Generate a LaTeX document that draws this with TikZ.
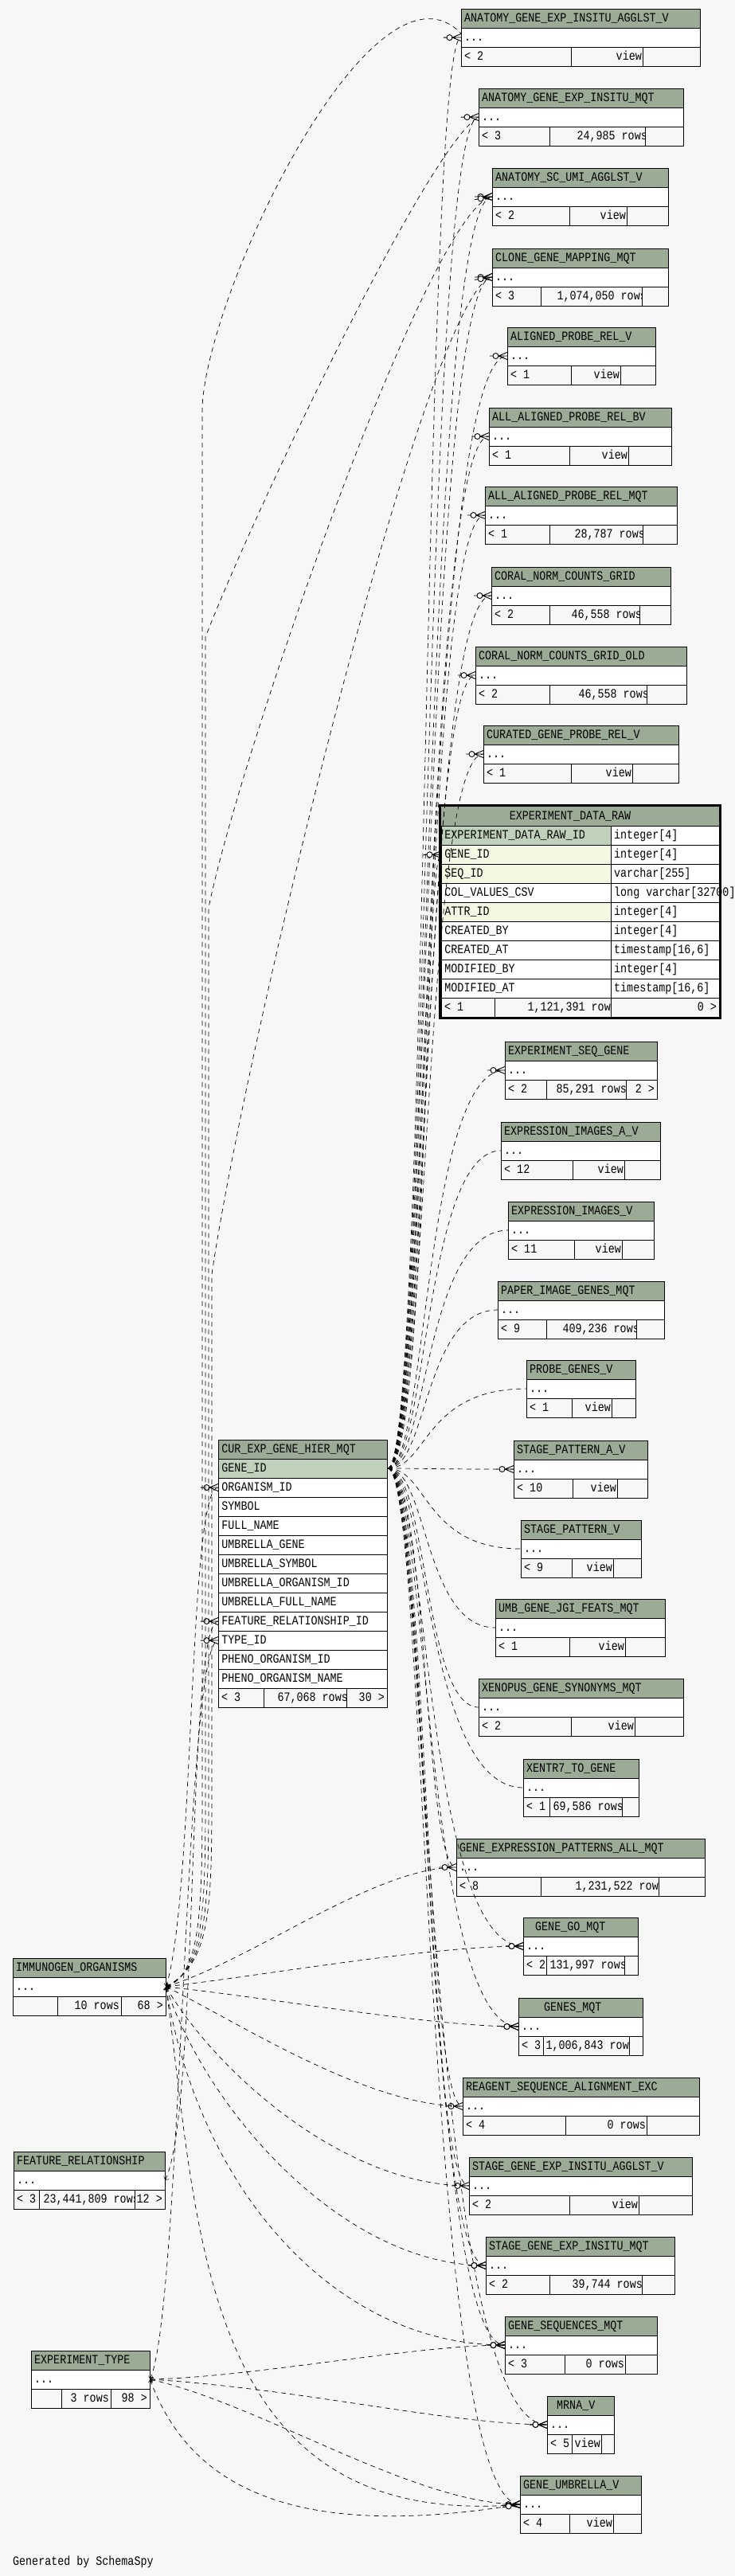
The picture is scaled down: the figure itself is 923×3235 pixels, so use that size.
\documentclass[tikz,border=0pt]{standalone}
\usepackage{fontspec}
\setmainfont{Liberation Mono}[FakeStretch=0.835]
\usetikzlibrary{arrows.meta,decorations.markings}
\definecolor{hdr}{HTML}{9BAB96}
\definecolor{pkrow}{HTML}{BFD1BA}
\definecolor{fkrow}{HTML}{F4F7E1}
\definecolor{canvas}{HTML}{F7F7F7}
\newcommand{\crowodot}{%
  \draw[solid,arrows=-,line width=0.9pt] (-22pt,0pt) -- (-11pt,0pt)
    (-11pt,0pt) -- (0pt,4.5pt) (-11pt,0pt) -- (0pt,0pt) (-11pt,0pt) -- (0pt,-4.5pt);
  \draw[solid,arrows=-,line width=0.9pt,fill=canvas] (-14.5pt,0pt) circle (3.5pt);}
\tikzset{
  tbl/.style={line width=0.9pt},
  cell/.style={anchor=west,inner sep=0pt,text height=11pt,text depth=2.5pt},
  row/.style={anchor=west,inner xsep=4pt,inner ysep=0pt,text height=11pt,text depth=2.5pt,align=left,minimum height=24pt},
  fk/.style={line width=0.7pt,dash pattern=on 6pt off 5pt,postaction={decorate},
    decoration={markings,mark=at position 1 with {\crowodot}}},
  fkp/.style={fk,arrows={Straight Barb[length=3pt,width=7pt,line width=0.5pt]-}},
}
\begin{document}
\catcode`\_=12
\begin{tikzpicture}[x=1pt,y=-1pt,font=\fontsize{16}{18}\selectfont]
\path[fill=canvas,use as bounding box] (0,0) rectangle (923,3235);
\coordinate (trunk) at (532,0);
% small tables
\foreach \tid/\ya/\xa/\xb/\xc/\xd/\hx/\tname/\fa/\fb/\mx/\fc in {
  agv/11/579/717/807/879/4/ANATOMY_GENE_EXP_INSITU_AGGLST_V/{< 2}/view/806/{},
  aimq/111/601/690/810/858/4/ANATOMY_GENE_EXP_INSITU_MQT/{< 3}/{24,985 rows}/813/{},
  scumi/211/618/715/787/839/4/ANATOMY_SC_UMI_AGGLST_V/{< 2}/view/786/{},
  clone/312/618/679/806/839/4/CLONE_GENE_MAPPING_MQT/{< 3}/{1,074,050 rows}/812/{},
  apr/411/637/717/779/823/4/ALIGNED_PROBE_REL_V/{< 1}/view/778/{},
  aaprbv/512/614/715/789/843/4/ALL_ALIGNED_PROBE_REL_BV/{< 1}/view/788/{},
  aaprmq/611/609/690/807/850/4/ALL_ALIGNED_PROBE_REL_MQT/{< 1}/{28,787 rows}/810/{},
  coral/712/617/690/803/842/4/CORAL_NORM_COUNTS_GRID/{< 2}/{46,558 rows}/806/{},
  coralold/812/597/690/812/862/4/CORAL_NORM_COUNTS_GRID_OLD/{< 2}/{46,558 rows}/815/{},
  curated/911/607/717/794/852/4/CURATED_GENE_PROBE_REL_V/{< 1}/view/793/{},
  esg/1308/634/686/786/825/4/EXPERIMENT_SEQ_GENE/{< 2}/{85,291 rows}/787/{2 >},
  eiav/1409/629/719/784/829/4/EXPRESSION_IMAGES_A_V/{< 12}/view/783/{},
  eiv/1509/638/721/781/821/4/EXPRESSION_IMAGES_V/{< 11}/view/780/{},
  pigm/1609/625/686/799/834/4/PAPER_IMAGE_GENES_MQT/{< 9}/{409,236 rows}/803/{},
  pgv/1708/661/718/768/798/4/PROBE_GENES_V/{< 1}/view/767/{},
  spav/1809/645/719/775/813/4/STAGE_PATTERN_A_V/{< 10}/view/774/{},
  spv/1909/654/718/770/805/4/STAGE_PATTERN_V/{< 9}/view/769/{},
  ugjf/2008/622/715/785/835/4/UMB_GENE_JGI_FEATS_MQT/{< 1}/view/784/{},
  xgs/2108/601/717/797/858/4/XENOPUS_GENE_SYNONYMS_MQT/{< 2}/view/796/{},
  xtg/2209/657/690/781/802/4/XENTR7_TO_GENE/{< 1}/{69,586 rows}/783/{},
  gepam/2309/573/679/827/885/4/GENE_EXPRESSION_PATTERNS_ALL_MQT/{< 8}/{1,231,522 rows}/835/{},
  gogo/2408/657/686/784/801/15/GENE_GO_MQT/{< 2}/{131,997 rows}/787/{},
  genes/2509/651/682/790/807/32/GENES_MQT/{< 3}/{1,006,843 rows}/798/{},
  reagent/2609/581/710/812/878/4/REAGENT_SEQUENCE_ALIGNMENT_EXC/{< 4}/{0 rows}/811/{},
  sgeav/2709/589/715/802/869/4/STAGE_GENE_EXP_INSITU_AGGLST_V/{< 2}/view/801/{},
  sgemq/2809/610/690/806/847/4/STAGE_GENE_EXP_INSITU_MQT/{< 2}/{39,744 rows}/807/{},
  gseq/2909/634/709/785/825/4/GENE_SEQUENCES_MQT/{< 3}/{0 rows}/784/{},
  mrna/3009/687/718/755/771/12/MRNA_V/{< 5}/view/754/{},
  umb/3109/653/715/770/805/4/GENE_UMBRELLA_V/{< 4}/view/769/{},
  imm/2459/16/72/152/208/4/IMMUNOGEN_ORGANISMS/{}/{10 rows}/150/{68 >},
  frel/2702/17/49/169/207/4/FEATURE_RELATIONSHIP/{< 3}/{23,441,809 rows}/175/{12 >},
  et/2952/39/77/139/188/4/EXPERIMENT_TYPE/{}/{3 rows}/137/{98 >}}{
  \pgfmathsetmacro\rtw{\xd-\xa-8}
  \fill[hdr] (\xa,\ya) rectangle (\xd,\ya+24);
  \fill[white] (\xa,\ya+24) rectangle (\xd,\ya+48);
  \draw[tbl] (\xa,\ya) rectangle (\xd,\ya+72) (\xa,\ya+24) -- (\xd,\ya+24)
    (\xa,\ya+48) -- (\xd,\ya+48) (\xb,\ya+48) -- (\xb,\ya+72) (\xc,\ya+48) -- (\xc,\ya+72);
  \node[cell] (\tid-h) at (\xa+\hx,\ya+12) {\tname};
  \node[row,text width=\rtw pt] (\tid) at (\xa,\ya+36) {...};
  \node[cell] (\tid-l) at (\xa+4,\ya+60) {\fa};
  \begin{scope}
    \clip (\xb,\ya+48) rectangle (\xc,\ya+72);
    \node[cell,anchor=east] (\tid-m) at (\mx,\ya+60) {\fb};
  \end{scope}
  \node[cell,anchor=east] (\tid-r) at (\xd-3,\ya+60) {\fc};
}
% EXPERIMENT_DATA_RAW
\fill[hdr] (554,1013) rectangle (903,1037);
\node[cell,anchor=center] (edr-h) at (716,1025) {EXPERIMENT_DATA_RAW};
\foreach \k/\cname/\ctype/\rc in {1/EXPERIMENT_DATA_RAW_ID/integer[4]/pkrow,
  2/GENE_ID/integer[4]/fkrow, 3/SEQ_ID/varchar[255]/fkrow,
  4/COL_VALUES_CSV/long varchar[32700]/white, 5/ATTR_ID/integer[4]/fkrow,
  6/CREATED_BY/integer[4]/white, 7/CREATED_AT/{timestamp[16,6]}/white,
  8/MODIFIED_BY/integer[4]/white, 9/MODIFIED_AT/{timestamp[16,6]}/white}{
  \node[row,tbl,draw,fill=\rc,text width=205pt] (edr-n\k) at (554,1025+24*\k) {\cname};
  \draw[tbl,fill=white] (767,1013+24*\k) rectangle (903,1037+24*\k);
  \node[cell] (edr-t\k) at (771,1025+24*\k) {\ctype};
}
\draw[tbl] (554,1253) rectangle (903,1277) (621,1253) -- (621,1277) (767,1253) -- (767,1277);
\node[cell] (edr-l) at (558,1265) {< 1};
\begin{scope}
  \clip (621,1253) rectangle (767,1277);
  \node[cell,anchor=east] (edr-m) at (775,1265) {1,121,391 rows};
\end{scope}
\node[cell,anchor=east] (edr-r) at (900,1265) {0 >};
\draw[line width=3pt] (552.5,1011.5) rectangle (904.5,1278);
% CUR_EXP_GENE_HIER_MQT
\node[row,tbl,draw,fill=hdr,text width=204pt] (cur-h) at (274,1820) {CUR_EXP_GENE_HIER_MQT};
\foreach \k/\cname/\rc in {1/GENE_ID/pkrow, 2/ORGANISM_ID/white, 3/SYMBOL/white,
  4/FULL_NAME/white, 5/UMBRELLA_GENE/white, 6/UMBRELLA_SYMBOL/white,
  7/UMBRELLA_ORGANISM_ID/white, 8/UMBRELLA_FULL_NAME/white,
  9/FEATURE_RELATIONSHIP_ID/white, 10/TYPE_ID/white,
  11/PHENO_ORGANISM_ID/white, 12/PHENO_ORGANISM_NAME/white}
  \node[row,tbl,draw,fill=\rc,text width=204pt] (cur-\k) at (274,1820+24*\k) {\cname};
\draw[tbl] (274,2120) rectangle (486,2144) (331,2120) -- (331,2144) (435,2120) -- (435,2144);
\node[cell] (cur-l) at (278,2132) {< 3};
\begin{scope}
  \clip (331,2120) rectangle (435,2144);
  \node[cell,anchor=east] (cur-m) at (437,2132) {67,068 rows};
\end{scope}
\node[cell,anchor=east] (cur-r) at (483,2132) {30 >};
% relationships
\foreach \tg in {agv,aimq,scumi,clone,apr,aaprbv,aaprmq,coral,coralold,curated,edr-n2,
  esg,eiav,eiv,pigm,pgv,spav,spv,ugjf,xgs,xtg,gepam,gogo,genes,reagent,sgeav,sgemq,
  gseq,mrna,umb}
  \draw[fk] (cur-1.east) .. controls +(50,0) and (\tg.west -| trunk) .. (\tg.west);
\foreach \tg/\ax/\ay/\bx/\by in {gepam/320/2460/470/2345, gogo/350/2478/540/2444,
  genes/350/2510/540/2545, reagent/300/2540/460/2645, sgeav/270/2600/430/2745,
  sgemq/260/2650/430/2845, gseq/250/2750/420/2945, umb/250/2800/250/3180}
  \draw[fkp] (imm.east) .. controls (\ax,\ay) and (\bx,\by) .. (\tg.west);
\foreach \tg/\ax/\ay/\bx/\by in {gseq/320/2985/520/2945, mrna/380/3000/560/3044,
  umb/330/3020/520/3145, umb/240/3130/380/3190}
  \draw[fkp] (et.east) .. controls (\ax,\ay) and (\bx,\by) .. (\tg.west);
\draw[fkp] (imm.east) .. controls (245,2380) and (236,1868) .. (cur-2.west);
\draw[fkp] (frel.east) .. controls (250,2650) and (234,2036) .. (cur-9.west);
\draw[fkp] (et.east) .. controls (228,2900) and (232,2060) .. (cur-10.west);
\draw[fkp] (imm.east) .. controls (252,2480) and (254,2400) .. (254,2250) -- (254,510)
  .. controls (262,360) and (470,-70) .. ([yshift=5pt]agv.west);
\draw[fkp] (imm.east) .. controls (256,2475) and (258,2400) .. (258,2250) -- (258,800)
  .. controls (320,640) and (540,180) .. (aimq.west);
\draw[fkp] (imm.east) .. controls (260,2470) and (262,2400) .. (262,2250) -- (262,1140)
  .. controls (300,950) and (540,260) .. (scumi.west);
\draw[fkp] (imm.east) .. controls (264,2465) and (266,2400) .. (266,2250) -- (266,1600)
  .. controls (310,1300) and (540,360) .. (clone.west);
\node[cell] (gen) at (16,3217) {Generated by SchemaSpy};
\end{tikzpicture}
\end{document}
